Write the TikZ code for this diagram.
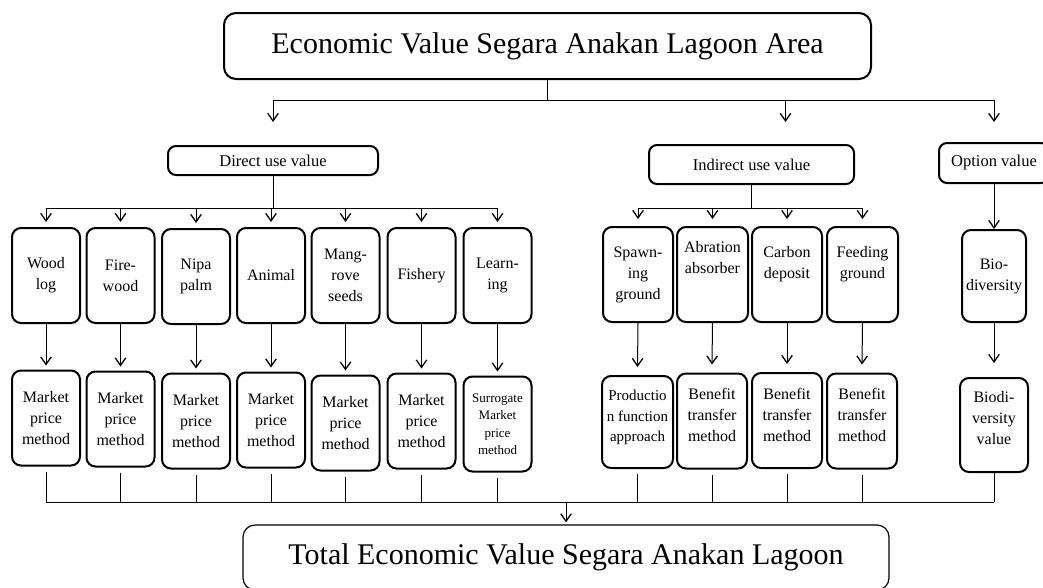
\documentclass[tikz,border=0pt]{standalone}
\usepackage{fontspec}
\setmainfont{Liberation Serif}
\usetikzlibrary{arrows.meta}
\tikzset{
	box/.style={draw, line width=2pt, rounded corners=9pt, align=center, inner sep=1pt, font=\fontsize{16}{21}\selectfont},
	cell/.style={box, minimum width=68pt, minimum height=95pt},
	head/.style={draw, line width=2pt, rounded corners=8pt, align=center, font=\fontsize{16.5}{20}\selectfont},
	big/.style={draw, rounded corners=12pt, font=\fontsize{30}{36}\selectfont},
	lift/.style={text depth=#1},
	bus/.style={line width=1pt},
	arr/.style={line width=1pt, -{Straight Barb[length=7.5pt,width=10.5pt,line width=1.3pt]}}
}

\begin{document}
\begin{tikzpicture}[x=1pt, y=-1pt]
		%%%%% START %%%%%
		\useasboundingbox (0,0) rectangle (1043,587);
		
		\node[big, line width=2pt, minimum width=647pt, minimum height=66pt] (top) at (547.5,46) {Economic Value Segara Anakan Lagoon Area};
		\node[big, line width=1.2pt, minimum width=646pt, minimum height=65pt] (total) at (566,557.5) {Total Economic Value Segara Anakan Lagoon};
		
		\node[head, minimum width=210pt, minimum height=29pt] (direct) at (273,160.5) {Direct use value};
		\node[head, minimum width=205pt, minimum height=39pt] (indirect) at (751.5,164.5) {Indirect use value};
		\node[head, minimum width=110pt, minimum height=40pt] (option) at (994,163) {Option value};
		
		% direct use
		\node[cell] (wood) at (46,275.5) {Wood\\log};
		\node[cell] (firewood) at (120.5,275.5) {Fire-\\wood};
		\node[cell] (nipa) at (196,276.5) {Nipa\\palm};
		\node[cell] (animal) at (271,275.5) {Animal};
		\node[cell] (mangrove) at (345.5,275.5) {Mang-\\rove\\seeds};
		\node[cell] (fishery) at (421.5,275.5) {Fishery};
		\node[cell] (learning) at (497.5,275.5) {Learn-\\ing};
		
		\node[cell] (mwood) at (46,418) {Market\\price\\method};
		\node[cell] (mfire) at (120.5,419) {Market\\price\\method};
		\node[cell] (mnipa) at (196,421) {Market\\price\\method};
		\node[cell] (manimal) at (271,420) {Market\\price\\method};
		\node[cell] (mmang) at (345.5,423) {Market\\price\\method};
		\node[cell] (mfish) at (421.5,421) {Market\\price\\method};
		\node[cell, font=\fontsize{13}{17.5}\selectfont] (mlearn) at (497.5,424) {Surrogate\\Market\\price\\method};
		
		% indirect use
		\node[cell, minimum width=70pt] (spawn) at (638,274.5) {Spawn-\\ing\\ground};
		\node[cell, minimum width=71pt, lift=34pt] (abration) at (712.5,274.5) {Abration\\absorber};
		\node[cell, minimum width=70pt, lift=24pt] (carbon) at (787,274.5) {Carbon\\deposit};
		\node[cell, minimum width=71pt, lift=24pt] (feeding) at (862.5,274.5) {Feeding\\ground};
		
		\node[cell, minimum width=71pt, minimum height=92pt, font=\fontsize{15}{20.5}\selectfont, lift=12pt] (prod) at (637.5,422) {Productio\\n function\\approach};
		\node[cell, minimum width=70pt, lift=12pt] (btrans) at (712,421) {Benefit\\transfer\\method};
		\node[cell, minimum width=70pt, lift=12pt] (ctrans) at (787,420.5) {Benefit\\transfer\\method};
		\node[cell, minimum width=70pt, lift=12pt] (ftrans) at (862,421) {Benefit\\transfer\\method};
		
		% option
		\node[cell, minimum width=64pt, minimum height=92pt] (bio) at (994,276) {Bio-\\diversity};
		\node[cell, minimum height=94pt, lift=14pt] (biov) at (994,425) {Biodi-\\versity\\value};
		
		% top level
		\coordinate (tbus) at ([yshift=-20pt]top.south);
		\coordinate (din) at ([yshift=23pt]direct.north);
		\coordinate (iin) at ([xshift=34pt,yshift=22pt]indirect.north);
		\coordinate (oin) at ([yshift=20pt]option.north);
		\draw[bus] (top.south) -- (tbus);
		\draw[bus] (tbus -| din) -- (tbus -| oin);
		\draw[arr] (tbus -| din) -- (din);
		\draw[arr] (tbus -| iin) -- (iin);
		\draw[arr] (tbus -| oin) -- (oin);
		
		% direct branches
		\coordinate (dbus) at ([yshift=-32pt]direct.south);
		\draw[bus] (direct.south) -- (dbus);
		\draw[bus] (dbus -| wood.north) -- (dbus -| learning.north);
		\foreach \n in {wood,firewood,nipa,animal,mangrove,fishery,learning}
			\draw[arr] (dbus -| \n.north) -- ([yshift=5pt]\n.north);
		\foreach \a/\b in {wood/mwood,firewood/mfire,nipa/mnipa,animal/manimal,mangrove/mmang,fishery/mfish,learning/mlearn}
			\draw[arr] (\a.south) -- ([yshift=4pt]\b.north);
		
		% indirect branches
		\coordinate (ibus) at ([yshift=-23pt]indirect.south);
		\draw[bus] (indirect.south) -- (ibus);
		\draw[bus] (ibus -| spawn.north) -- (ibus -| feeding.north);
		\foreach \n in {spawn,abration,carbon,feeding}
			\draw[arr] (ibus -| \n.north) -- ([yshift=7pt]\n.north);
		\foreach \a/\b in {spawn/prod,abration/btrans,carbon/ctrans,feeding/ftrans}
			\draw[arr] (\a.south) -- ([yshift=8pt]\b.north);
		
		\draw[arr] (option.south) -- (bio.north);
		\draw[arr] (bio.south) -- ([yshift=14pt]biov.north);
		
		% to total
		\coordinate (bbus) at ([yshift=22pt]total.north);
		\foreach \n in {mwood,mfire,mnipa,manimal,mmang,mfish,mlearn,prod,btrans,ctrans,ftrans}
			\draw[bus] ([yshift=-5pt]\n.south) -- (bbus -| \n.south);
		\draw[bus] (biov.south) -- (bbus -| biov.south);
		\draw[bus] (bbus -| mwood.south) -- (bbus -| biov.south);
		\draw[arr] (bbus) -- ([yshift=2pt]total.north);
		
		%%%%% END %%%%%
\end{tikzpicture}
\end{document}
